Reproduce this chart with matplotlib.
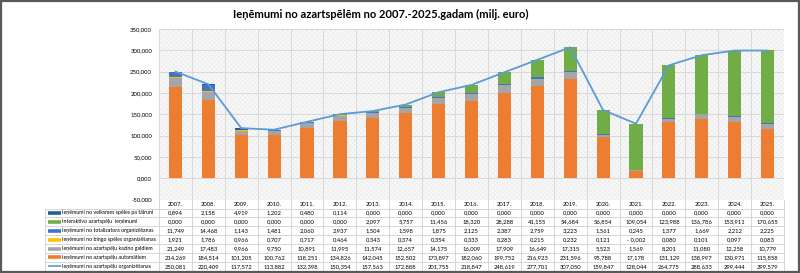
import numpy as np
import matplotlib.pyplot as plt
import matplotlib.transforms as mtransforms
from matplotlib.patches import Rectangle

plt.rcParams['font.family'] = ['Lato', 'DejaVu Sans']
plt.rcParams['hatch.linewidth'] = 0.3

years = ['2007.', '2008.', '2009.', '2010.', '2011.', '2012.', '2013.', '2014.', '2015.', '2016.',
         '2017.', '2018.', '2019.', '2020.', '2021.', '2022.', '2023.', '2024.', '2025.']

veiksmes = [0.894, 2.158, 4.919, 1.202, 0.480, 0.114, 0, 0, 0, 0, 0, 0, 0, 0, 0, 0, 0, 0, 0]
interaktivas = [0, 0, 0, 0, 0, 0, 2.097, 5.757, 11.456, 18.320, 28.288, 41.155, 54.684, 56.854,
                109.054, 123.988, 136.786, 153.911, 170.655]
totalizators = [11.749, 14.468, 1.143, 1.481, 2.060, 2.937, 1.504, 1.598, 1.875, 2.125, 2.387,
                2.759, 3.223, 1.561, 0.245, 1.377, 1.669, 2.212, 2.225]
bingo = [1.921, 1.786, 0.966, 0.707, 0.717, 0.464, 0.343, 0.374, 0.354, 0.333, 0.283, 0.215,
         0.232, 0.121, -0.002, 0.080, 0.101, 0.097, 0.083]
kazino = [21.249, 17.483, 9.966, 9.750, 10.891, 11.995, 11.574, 12.657, 14.175, 16.009, 17.909,
          16.649, 17.315, 5.523, 1.569, 8.201, 11.080, 12.258, 10.779]
automati = [214.269, 184.514, 101.205, 100.762, 118.251, 134.826, 142.045, 152.502, 173.897,
            182.060, 199.752, 216.923, 231.596, 95.788, 17.178, 131.129, 138.997, 130.971, 115.858]
kopa = [250.081, 220.409, 117.572, 113.882, 132.398, 150.354, 157.563, 172.888, 201.755, 218.847,
        248.619, 277.701, 307.050, 159.847, 128.044, 264.775, 288.633, 299.444, 299.579]

names = ['Ieņēmumi no veiksmes spēles pa tālruni',
         'Interaktīvo azartspēļu  ieņēmumi',
         'Ieņēmumi no totalizatora organizēšanas',
         'Ieņēmumi no bingo spēles organizēšanas',
         'Ieņēmumi no azartspēļu kazino galdiem',
         'Ieņēmumi no azartspēļu automātiem',
         'Ieņēmumi no azartspēļu organizēšanas']
colors = ['#255E91', '#70AD47', '#4472C4', '#FFC000', '#A5A5A5', '#ED7D31', '#5B9BD5']
rows = [veiksmes, interaktivas, totalizators, bingo, kazino, automati, kopa]


def fmt(v):
    s = '{:.3f}'.format(abs(v)).replace('.', ',')
    return '- ' + s if v < 0 else s


fig = plt.figure(figsize=(8, 2.73), dpi=100)
W, H = 800, 273
x = np.arange(len(years))

ax = fig.add_axes([159 / W, 1 - 199.6 / H, (784 - 159) / W, (199.6 - 29) / H])
ax.set_facecolor('white')
ax.add_patch(Rectangle((0, 0), 1, 1, transform=ax.transAxes, facecolor='#f8f8f8',
                       edgecolor='#e6e6e6', hatch='xxxxxxx', linewidth=0, zorder=0))

# stacked bars, bottom to top
stack = [automati, kazino, bingo, totalizators, interaktivas, veiksmes]
stack_col = ['#ED7D31', '#A5A5A5', '#FFC000', '#4472C4', '#70AD47', '#255E91']
bottom = np.zeros(len(years))
for vals, c in zip(stack, stack_col):
    vals = np.array(vals)
    ax.bar(x, vals, 0.4, bottom=bottom, color=c, zorder=3)
    bottom += vals
ax.plot(x, kopa, color='#5B9BD5', linewidth=1.3, zorder=4)

ax.set_xlim(-0.5, len(years) - 0.5)
ax.set_ylim(-50, 350)
yt = np.arange(-50, 351, 50)
ax.set_yticks(yt)
ax.set_yticklabels([fmt(v).replace('- ', '-') for v in yt], fontsize=4.3)
ax.set_xticks(np.arange(-0.5, len(years), 1))
ax.set_xticklabels([])
ax.tick_params(length=0, pad=5)
ax.grid(True, color='#d9d9d9', linewidth=0.7, zorder=1)
for s in ax.spines.values():
    s.set_visible(False)

fig.text(381 / W, 1 - 14 / H, 'Ieņēmumi no azartspēlēm no 2007.-2025.gadam (milj. euro)',
         ha='center', va='center', fontsize=8, fontweight='bold')

# data table under the chart
tab = fig.add_axes([0, 0, 1, 1], zorder=-1)
tab.set_xlim(0, W)
tab.set_ylim(H, 0)
tab.axis('off')
tr = mtransforms.blended_transform_factory(ax.transData, tab.transData)

top = 199.6
rh = 8.9
lc = '#d0d0d0'
n = len(years)
for i in range(n + 1):
    tab.plot([i - 0.5, i - 0.5], [top, top + rh * 8], color=lc, lw=0.6, transform=tr)
for j in range(1, 9):
    y = top + rh * j
    tab.plot([45, 159], [y, y], color=lc, lw=0.6)
    tab.plot([-0.5, n - 0.5], [y, y], color=lc, lw=0.6, transform=tr)
tab.plot([45, 45], [top + rh, top + rh * 8], color=lc, lw=0.6)

for i, yr in enumerate(years):
    tab.text(i, top + rh * 0.5, yr, ha='center', va='center', fontsize=4.2, transform=tr)
for j, (name, c, vals) in enumerate(zip(names, colors, rows)):
    yc = top + rh * (j + 1.5)
    lw = 1.2 if j == 6 else 2.6
    tab.plot([48, 61], [yc, yc], color=c, lw=lw, solid_capstyle='butt')
    tab.text(62.5, yc, name, ha='left', va='center', fontsize=3.75)
    for i, v in enumerate(vals):
        tab.text(i, yc, fmt(v), ha='center', va='center', fontsize=4.2, transform=tr)

fig.add_artist(Rectangle((0.001, 0.002), 0.998, 0.996, transform=fig.transFigure, fill=False,
                         edgecolor='#595959', linewidth=1.6))

plt.savefig('out.png', dpi=100)
